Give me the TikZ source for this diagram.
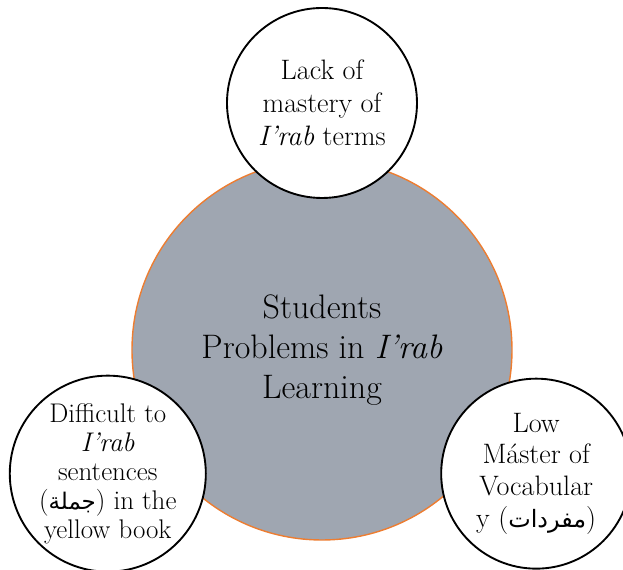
\documentclass[tikz,border=0pt]{standalone}
\usepackage{fontspec}
\usetikzlibrary{shapes.geometric, positioning}
\newfontfamily\arabicfont[Script=Arabic, Scale=0.85]{DejaVu Sans}
\TeXXeTstate=1
\definecolor{SlateGray}{RGB}{159, 166, 177}
\definecolor{AccentOrange}{RGB}{237, 125, 49}
\definecolor{White}{RGB}{255, 255, 255}

\begin{document}
\begin{tikzpicture}[
        core/.style={circle, draw=AccentOrange, line width=1.2pt, fill=SlateGray, minimum size=11.4cm, inner sep=0pt, align=center, font=\fontsize{29}{34}\selectfont},
        problem/.style={circle, draw=black, line width=1.6pt, fill=White, minimum size=5.7cm, inner sep=0pt, align=center, font=\fontsize{24}{28}\selectfont}]
        \useasboundingbox (-9.66,-6.6) rectangle (9.03,10.5);
        % central circle, the three problems sit on its rim
        \node[core] (core) at (0,0) {Students\\ Problems in \textit{I’rab}\\ Learning};
        \node[problem] (mastery) at (90:7.41) {Lack of\\ mastery of\\ \textit{I’rab} terms};
        \node[problem, font=\fontsize{23}{24.7}\selectfont] (sentences) at (210:7.42) {Difficult to\\ \textit{I’rab}\\ sentences\\ ({\arabicfont\beginR جملة\endR}) in the\\ yellow book};
        \node[problem, font=\fontsize{24}{27}\selectfont] (vocab) at (330:7.42) {Low\\ Máster of\\ Vocabular\\ y ({\arabicfont\beginR مفردات\endR})};
    \end{tikzpicture}
\end{document}
